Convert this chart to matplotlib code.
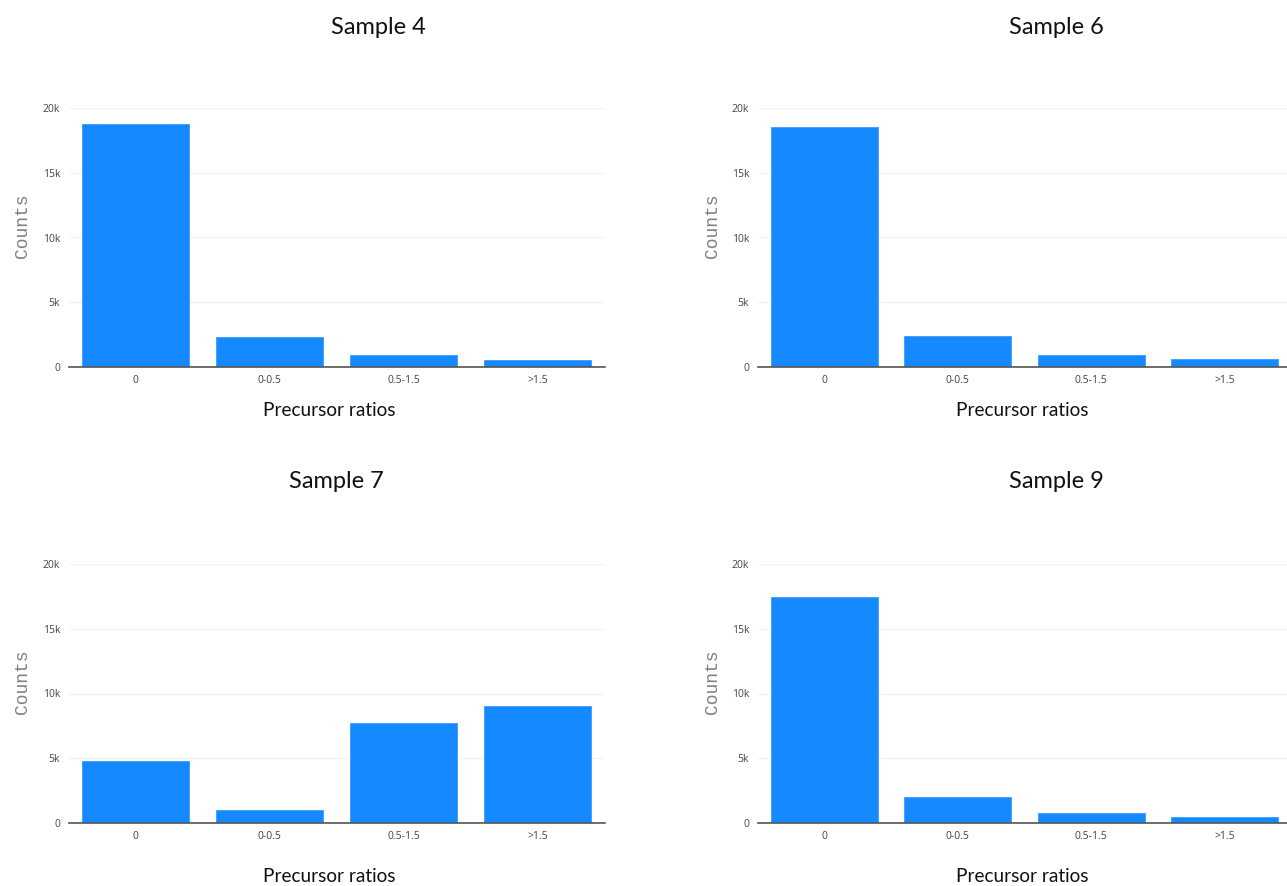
import matplotlib
matplotlib.use("Agg")
import matplotlib.pyplot as plt

categories = ["0", "0-0.5", "0.5-1.5", ">1.5"]
yticks = [0, 5000, 10000, 15000, 20000]
ytick_labels = ["0", "5k", "10k", "15k", "20k"]

sample4 = [18760, 2340, 900, 560]
sample6 = [18500, 2390, 950, 600]
sample7 = [4760, 1030, 7720, 9000]
sample9 = [17420, 1980, 800, 500]

W, H = 1287, 886
BAR = "#1589ff"
TXT = "#444444"

fig = plt.figure(figsize=(W / 100, H / 100), dpi=100)
fig.patch.set_facecolor("white")


def px_axes(x0, x1, ytop, ybot):
    return fig.add_axes([x0 / W, 1 - ybot / H, (x1 - x0) / W, (ybot - ytop) / H])


# title, values, axes box (px), title pos, x-label pos, y-label pos
panels = [
    ("Sample 4", sample4, (68.5, 604.5, 108, 367), 378, 28, 329, 411, 22, 226),
    ("Sample 6", sample6, (757.5, 1291.5, 108, 367), 1056, 28, 1022, 411, 712, 226),
    ("Sample 7", sample7, (68.5, 604.5, 564, 823), 336, 482, 329, 877, 22, 682),
    ("Sample 9", sample9, (757.5, 1291.5, 564, 823), 1056, 482, 1022, 877, 712, 682),
]

for title, vals, box, tx, ty, xlx, xly, ylx, yly in panels:
    ax = px_axes(*box)
    x = range(len(categories))
    ax.bar(x, vals, width=0.8, color=BAR, edgecolor="#3d9bff", linewidth=0.6, zorder=3)
    ax.set_xlim(-0.5, 3.5)
    ax.set_ylim(0, 20000)
    ax.set_yticks(yticks)
    ax.set_yticklabels(ytick_labels)
    ax.set_xticks(list(x))
    ax.set_xticklabels(categories)
    ax.tick_params(axis="both", length=0, labelsize=7.5, colors=TXT)
    ax.tick_params(axis="y", pad=6)
    ax.tick_params(axis="x", pad=6)
    for lbl in ax.get_xticklabels() + ax.get_yticklabels():
        lbl.set_family("Open Sans")
    ax.grid(axis="y", color="#f4f4f4", linewidth=1, zorder=0)
    ax.set_axisbelow(True)
    for s in ("top", "right", "left"):
        ax.spines[s].set_visible(False)
    ax.spines["bottom"].set_color("#555555")
    ax.spines["bottom"].set_linewidth(1.2)
    ax.spines["bottom"].set_zorder(4)
    ax.set_facecolor("none")

    fig.text(tx / W, 1 - ty / H, title, ha="center", va="center",
             fontsize=17, family="Lato", color="#111111")
    fig.text(xlx / W, 1 - xly / H, "Precursor ratios", ha="center", va="center",
             fontsize=13.7, family="Lato", color="#111111")
    fig.text(ylx / W, 1 - yly / H, "Counts", ha="center", va="center",
             rotation=90, fontsize=13, family="Liberation Mono", color="#808080")

fig.savefig("out.png", dpi=100)
